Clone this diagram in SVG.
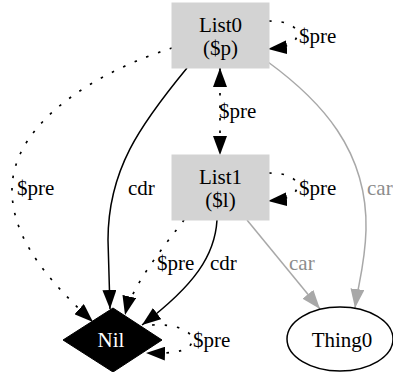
<svg xmlns="http://www.w3.org/2000/svg" width="393" height="372" viewBox="0 0 393 372">
<style>
text{font-family:'Liberation Serif','Times New Roman',Times,serif;font-size:21px;fill:#000}
.box{fill:#d3d3d3;stroke:#d3d3d3}
.e{fill:none;stroke:#000;stroke-width:1.5}
.dot{stroke-dasharray:2.5,10;stroke-width:1.7}
.gray{stroke:#a8a8a8}
.gt{fill:#8c8c8c}
</style>
<defs>
<marker id="ab" viewBox="0 0 19 14" refX="19" refY="7" markerWidth="19" markerHeight="14" markerUnits="userSpaceOnUse" orient="auto-start-reverse"><path d="M0,0L19,7L0,14z" fill="#000"/></marker>
<marker id="ag" viewBox="0 0 19 14" refX="19" refY="7" markerWidth="19" markerHeight="14" markerUnits="userSpaceOnUse" orient="auto"><path d="M0,0L19,7L0,14z" fill="#a8a8a8"/></marker>
</defs>
<g id="edges">
<path class="e" d="M187,68C140,125 108,170 108,240L110,309" marker-end="url(#ab)"/>
<text x="128" y="195">cdr</text>
<path class="e dot" d="M172,48C102,70 12,120 12,190C12,240 50,282 93,322" marker-end="url(#ab)"/>
<text x="17" y="195">$pre</text>
<path class="e dot" d="M269,21C287,21 297,26 297,34C297,42 290,47 268,49" marker-end="url(#ab)"/>
<text x="299" y="43">$pre</text>
<path class="e dot" d="M220,68L220,155" marker-start="url(#ab)" marker-end="url(#ab)"/>
<text x="219" y="118">$pre</text>
<path class="e gray" d="M268,62C320,100 368,150 366,230C365,265 358,285 355,308" marker-end="url(#ag)"/>
<text class="gt" x="367" y="195">car</text>
<path class="e dot" d="M269,173C287,173 297,178 297,186C297,194 290,199 268,201" marker-end="url(#ab)"/>
<text x="299" y="195">$pre</text>
<path class="e dot" d="M184,220C165,245 132,285 125,315" marker-end="url(#ab)"/>
<text x="157" y="270">$pre</text>
<path class="e" d="M217,220C215,255 195,285 142,325" marker-end="url(#ab)"/>
<text x="210" y="270">cdr</text>
<path class="e gray" d="M247,220L320,309" marker-end="url(#ag)"/>
<text class="gt" x="289" y="270">car</text>
<path class="e dot" d="M152,325C175,324 192,330 192,340C192,350 178,354 146,353" marker-end="url(#ab)"/>
<text x="193" y="347">$pre</text>
</g>
<g id="List0">
<rect class="box" x="172" y="3" width="97" height="65"/>
<text x="220.5" y="32" text-anchor="middle">List0</text>
<text x="220.5" y="55" text-anchor="middle">($p)</text>
</g>
<g id="List1">
<rect class="box" x="172" y="155" width="97" height="65"/>
<text x="220.5" y="184" text-anchor="middle">List1</text>
<text x="220.5" y="207" text-anchor="middle">($l)</text>
</g>
<g id="Nil">
<polygon points="113,308 162,340 113,372 63,340" fill="#000" stroke="#000"/>
<text x="111" y="347" text-anchor="middle" style="fill:#fff">Nil</text>
</g>
<g id="Thing0">
<ellipse cx="340" cy="339" rx="53" ry="32" fill="#fff" stroke="#000" stroke-width="1.5"/>
<text x="342" y="347" text-anchor="middle">Thing0</text>
</g>
</svg>
